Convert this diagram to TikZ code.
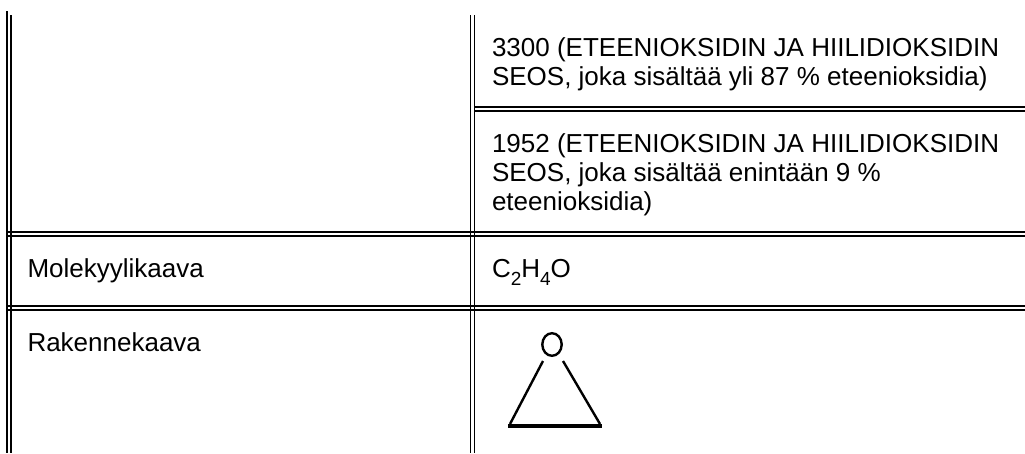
\documentclass[tikz,border=0pt]{standalone}
\usepackage{fontspec}
\setmainfont{Liberation Sans}
\newcommand{\subdigit}[1]{\raisebox{-8pt}{\fontsize{19}{19}\selectfont #1}}
\tikzset{
  x=1pt,y=-1pt,
  rule/.style={draw=black,line width=1.5pt},
  txt/.style={anchor=base west,inner sep=0pt,outer sep=0pt,font=\fontsize{26}{29}\selectfont},
  mol/.style={draw=black,line width=2.4pt}
}
\begin{document}
\begin{tikzpicture}
\useasboundingbox (0,0) rectangle (1025,453);
% vertical double rules
\draw[rule,line width=2pt] (7,11) -- (7,453);
\draw[rule] (10.8,15) -- (10.8,453);
\foreach \xx in {470.3,474.3}{\draw[rule] (\xx,15) -- (\xx,453);}
% horizontal double rules
\foreach \yy in {232.2,236.2,306.2,310.2}{\draw[rule] (7,\yy) -- (1025,\yy);}
\foreach \yy in {106.8,110.8}{\draw[rule] (474,\yy) -- (1025,\yy);}
\node[txt] (a1) at (492,56) {3300 (ETEENIOKSIDIN JA HIILIDIOKSIDIN};
\node[txt] (a2) at (492,85) {SEOS, joka sisältää yli 87 \% eteenioksidia)};
\node[txt] (b1) at (492,152) {1952 (ETEENIOKSIDIN JA HIILIDIOKSIDIN};
\node[txt] (b2) at (492,181) {SEOS, joka sisältää enintään 9 \%};
\node[txt] (b3) at (492,210) {eteenioksidia)};
\node[txt] (c1) at (27.5,277) {Molekyylikaava};
\node[txt] (c2) at (492,277) {C\subdigit{2}H\subdigit{4}O};
\node[txt] (d1) at (27.5,351) {Rakennekaava};
% structural formula
\draw[mol] (552,344.5) ellipse (9.7 and 11.3);
\draw[mol] (543,361) -- (510,424);
\draw[mol] (563,361) -- (600,424);
\draw[draw=black,line width=4.5pt] (508,426) -- (602,426);
\end{tikzpicture}
\end{document}
